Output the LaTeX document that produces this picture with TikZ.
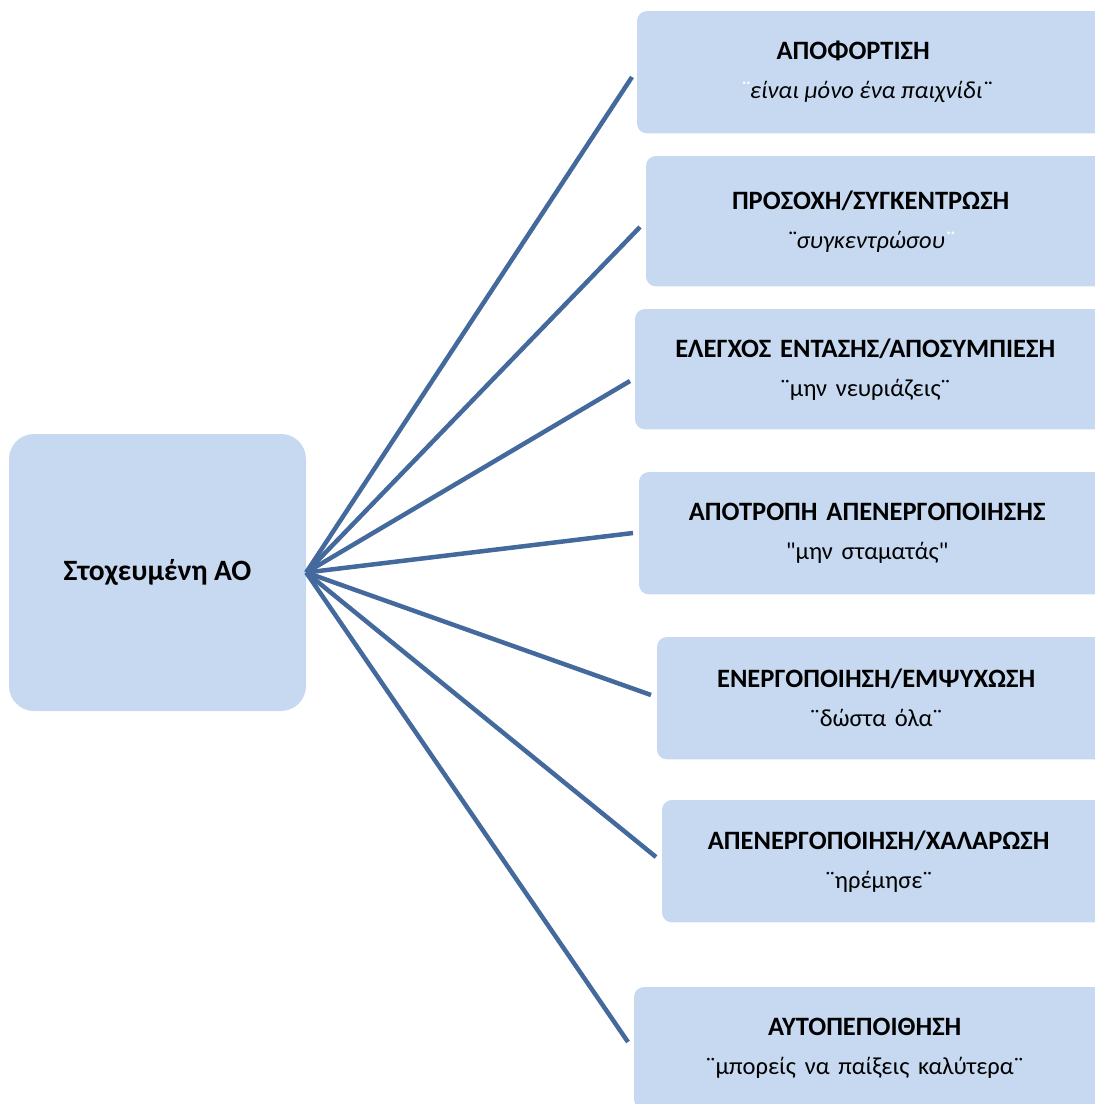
\documentclass[tikz,border=0pt]{standalone}
\usepackage{fontspec}
\setmainfont{Carlito}
\usepackage{tikz}
\usetikzlibrary{backgrounds}
\definecolor{boxblue}{HTML}{C6D9F1}
\definecolor{linkblue}{HTML}{44699C}
\newcommand{\subline}{\fontsize{24.5}{39}\selectfont}

\begin{document}
\begin{tikzpicture}[x=1pt,y=-1pt,%
    goalbox/.style={
      fill=boxblue,
      rounded corners=25,
      minimum width=297,
      minimum height=277,
      font=\fontsize{29.5}{34}\selectfont\bfseries
    },
    tipbox/.style={
      anchor=north west,
      inner xsep=0,
      inner ysep=0,
      minimum height=122,
      align=center,
      font=\fontsize{26.5}{39}\selectfont
    },
    link/.style={draw=linkblue, line width=4.5}]
    \useasboundingbox (0,0) rectangle (1095,1104);

    \node[goalbox] at (157.5,572.5) (goal) {Στοχευμένη ΑΟ};

    \node[tipbox, text width=458pt] at (637,11) (b1)
        {\textbf{ΑΠΟΦΟΡΤΙΣΗ}\rule{26pt}{0pt}\\{\subline\itshape\spaceskip=0.23em\textcolor{white}{¨}είναι μόνο ένα παιχνίδι¨}};
    \node[tipbox, text width=449pt, minimum height=130] at (646,156) (b2)
        {\textbf{ΠΡΟΣΟΧΗ/ΣΥΓΚΕΝΤΡΩΣΗ}\\{\subline\itshape ¨συγκεντρώσου\textcolor{white}{¨}}};
    \node[tipbox, text width=460pt, minimum height=120] at (635,309) (b3)
        {\textbf{ΕΛΕΓΧΟΣ ΕΝΤΑΣΗΣ/ΑΠΟΣΥΜΠΙΕΣΗ}\\{\subline ¨μην νευριάζεις¨}};
    \node[tipbox, text width=456pt] at (639,472) (b4)
        {\textbf{ΑΠΟΤΡΟΠΗ ΑΠΕΝΕΡΓΟΠΟΙΗΣΗΣ}\\{\subline\textquotedbl μην σταματάς\textquotedbl}};
    \node[tipbox, text width=438pt] at (657,637) (b5)
        {\textbf{ΕΝΕΡΓΟΠΟΙΗΣΗ/ΕΜΨΥΧΩΣΗ}\\{\subline ¨δώστα όλα¨}};
    \node[tipbox, text width=433pt] at (662,800) (b6)
        {\textbf{ΑΠΕΝΕΡΓΟΠΟΙΗΣΗ/ΧΑΛΑΡΩΣΗ}\\{\subline ¨ηρέμησε¨}};
    \node[tipbox, text width=461pt] at (634,987) (b7)
        {\textbf{ΑΥΤΟΠΕΠΟΙΘΗΣΗ}\\{\subline ¨μπορείς να παίξεις καλύτερα¨}};

    % box fills run past the right edge
    \begin{scope}[on background layer]
      \foreach \b in {b1,b2,b3,b4,b5,b6,b7}
        \fill[boxblue, rounded corners=10] (\b.north west) rectangle ([xshift=20pt]\b.south east);
    \end{scope}

    \coordinate (e1) at (632,77);
    \coordinate (e2) at (640,227);
    \coordinate (e3) at (630,381);
    \coordinate (e4) at (633,533);
    \coordinate (e5) at (651,695);
    \coordinate (e6) at (656,857);
    \coordinate (e7) at (628,1042);

    \path[link]
        (goal.east) edge (e1)
        (goal.east) edge (e2)
        (goal.east) edge (e3)
        (goal.east) edge (e4)
        (goal.east) edge (e5)
        (goal.east) edge (e6)
        (goal.east) edge (e7)
        ;
\end{tikzpicture}
\end{document}
